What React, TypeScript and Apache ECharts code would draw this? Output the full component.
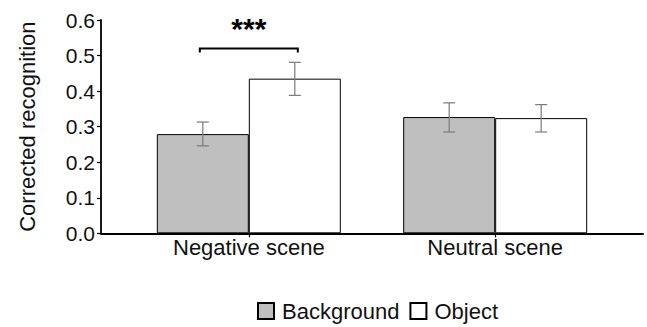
import React, { useEffect, useRef } from "react";
import * as echarts from "echarts";

const categories = ["Negative scene", "Neutral scene"];
const backgroundValues = [0.279, 0.327];
const objectValues = [0.435, 0.324];
const backgroundErr = [[0.246, 0.313], [0.285, 0.367]];
const objectErr = [[0.388, 0.481], [0.285, 0.362]];
const sigBracketY = 0.52;
const sigLabel = "***";

const FONT = "'Liberation Sans', Arial, Helvetica, sans-serif";
const BAR_W = 92;

export default function App() {
  const ref = useRef<HTMLDivElement>(null);
  useEffect(() => {
    document.body.style.margin = "0";
    const chart = echarts.init(ref.current!, null, { renderer: "svg" });
    const errData: number[][] = [];
    categories.forEach((_, i) => {
      errData.push([i, backgroundErr[i][0], backgroundErr[i][1], -1]);
      errData.push([i, objectErr[i][0], objectErr[i][1], 1]);
    });
    chart.setOption({
      animation: false,
      textStyle: { fontFamily: FONT },
      grid: { left: 101, right: 4, top: 20, bottom: 93.7 },
      xAxis: {
        type: "value",
        min: -0.6,
        max: 1.6,
        splitLine: { show: false },
        axisLine: { show: true, onZero: false, lineStyle: { color: "#000", width: 1.8 } },
        axisTick: { show: true, customValues: [0, 1], length: 4, lineStyle: { color: "#000", width: 1.2 } },
        axisLabel: {
          customValues: [0, 1],
          formatter: (v: number) => categories[Math.round(v)] ?? "",
          color: "#111",
          fontSize: 22,
          fontFamily: FONT,
          margin: 3,
        },
      },
      yAxis: {
        type: "value",
        min: 0,
        max: 0.6,
        interval: 0.1,
        name: "Corrected recognition",
        nameLocation: "middle",
        nameGap: 63,
        nameTextStyle: { color: "#111", fontSize: 22, fontFamily: FONT },
        splitLine: { show: false },
        axisLine: { show: true, onZero: false, lineStyle: { color: "#000", width: 1.8 } },
        axisTick: { show: true, length: 4, lineStyle: { color: "#000", width: 1.2 } },
        axisLabel: {
          color: "#111",
          fontSize: 21,
          fontFamily: FONT,
          margin: 6,
          formatter: (v: number) => v.toFixed(1),
        },
      },
      legend: {
        left: 257,
        top: 300,
        padding: 0,
        itemWidth: 16,
        itemHeight: 16,
        itemGap: 10,
        icon: "rect",
        textStyle: { color: "#111", fontSize: 22, fontFamily: FONT, padding: [0, 0, 0, 3] },
        data: ["Background", "Object"],
      },
      series: [
        {
          name: "Background",
          type: "bar",
          barWidth: BAR_W,
          barGap: "0%",
          data: categories.map((_, i) => [i, backgroundValues[i]]),
          itemStyle: { color: "#bfbfbf", borderColor: "#000", borderWidth: 1 },
        },
        {
          name: "Object",
          type: "bar",
          barWidth: BAR_W,
          barGap: "0%",
          data: categories.map((_, i) => [i, objectValues[i]]),
          itemStyle: { color: "#ffffff", borderColor: "#000", borderWidth: 1 },
        },
        {
          type: "custom",
          name: "err",
          data: errData,
          z: 10,
          renderItem: (params: any, api: any) => {
            const x = api.value(0);
            const lo = api.coord([x, api.value(1)]);
            const hi = api.coord([x, api.value(2)]);
            const cx = lo[0] + api.value(3) * (BAR_W / 2);
            const cap = 6;
            const style = { stroke: "#7a7a7a", lineWidth: 1.2 };
            return {
              type: "group",
              children: [
                { type: "line", shape: { x1: cx, y1: lo[1], x2: cx, y2: hi[1] }, style },
                { type: "line", shape: { x1: cx - cap, y1: lo[1], x2: cx + cap, y2: lo[1] }, style },
                { type: "line", shape: { x1: cx - cap, y1: hi[1], x2: cx + cap, y2: hi[1] }, style },
              ],
            };
          },
        },
        {
          type: "custom",
          name: "sig",
          data: [[0, sigBracketY]],
          z: 10,
          renderItem: (params: any, api: any) => {
            const p = api.coord([api.value(0), api.value(1)]);
            const x1 = p[0] - BAR_W / 2 - 3;
            const x2 = p[0] + BAR_W / 2 + 3;
            const y = p[1];
            return {
              type: "group",
              children: [
                {
                  type: "polyline",
                  shape: { points: [[x1, y + 4], [x1, y], [x2, y], [x2, y + 4]] },
                  style: { stroke: "#000", lineWidth: 2, fill: null },
                },
                {
                  type: "text",
                  style: {
                    text: sigLabel,
                    x: p[0],
                    y: y - 35,
                    align: "center",
                    verticalAlign: "top",
                    font: `bold 30px ${FONT}`,
                    fill: "#000",
                  },
                },
              ],
            };
          },
        },
      ],
    });
    return () => chart.dispose();
  }, []);
  return <div ref={ref} style={{ width: 647, height: 327 }} />;
}
